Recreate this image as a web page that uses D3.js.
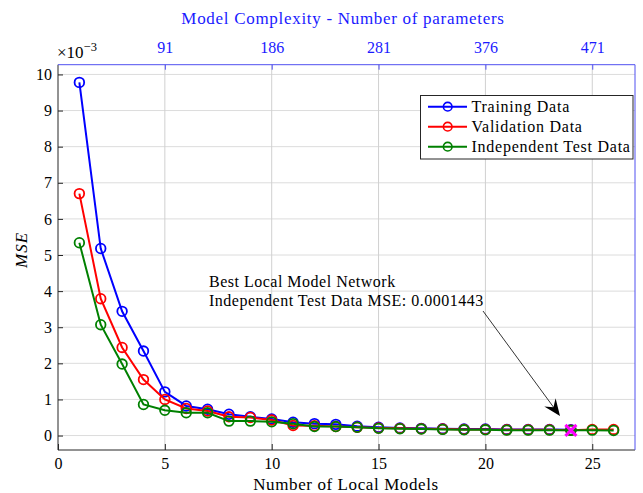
<!DOCTYPE html>
<html><head><meta charset="utf-8">
<script src="https://cdn.jsdelivr.net/npm/d3@7"></script>
<style>body{margin:0;background:#fff}svg{display:block}text{font-family:"Liberation Serif",serif}</style>
</head><body>
<script>
const models = d3.range(1, 27);
const training = [9.78,5.18,3.44,2.34,1.21,0.82,0.73,0.59,0.52,0.46,0.37,0.33,0.31,0.26,0.23,0.21,0.20,0.19,0.18,0.18,0.17,0.17,0.17,0.16];
const validation = [6.70,3.79,2.44,1.55,1.00,0.75,0.68,0.52,0.50,0.43,0.28,0.27,0.25,0.23,0.21,0.20,0.19,0.18,0.17,0.17,0.16,0.16,0.16,0.15,0.17,0.17];
const testData = [5.34,3.07,1.98,0.86,0.70,0.63,0.63,0.40,0.40,0.38,0.33,0.25,0.25,0.23,0.20,0.19,0.18,0.17,0.16,0.16,0.15,0.15,0.15,0.1443,0.15,0.14];
const seriesNames = ["Training Data","Validation Data","Independent Test Data"];
const seriesColors = ["#0000ff","#ff0000","#008000"];
const xTicks = [0,5,10,15,20,25];
const yTicks = [0,1,2,3,4,5,6,7,8,9,10];
const topTicks = [5,10,15,20,25];
const topTickLabels = ["91","186","281","376","471"];
const best = {x:24, y:0.1443};

const W=643,H=493;
const svg=d3.select("body").append("svg").attr("width",W).attr("height",H);
const L=58,R=635,T=64.7,B=450;
const x=d3.scaleLinear().domain([0,27]).range([L,R]);
const y=d3.scaleLinear().domain([-0.4,10.27]).range([B,T]);
const axisCol="#262626", blueAx="#5050f0";

// grid
const g=svg.append("g");
g.selectAll("line.gy").data(yTicks).join("line").attr("x1",L).attr("x2",R)
 .attr("y1",d=>y(d)).attr("y2",d=>y(d)).attr("stroke","#dcdcdc").attr("stroke-width",1);
g.selectAll("line.gx").data(topTicks).join("line").attr("y1",T).attr("y2",B)
 .attr("x1",d=>x(d)).attr("x2",d=>x(d)).attr("stroke","#d0d0d0").attr("stroke-width",1);

// axes
const xAxis=d3.axisBottom(x).tickValues(xTicks).tickSize(-6).tickPadding(7.5).tickFormat(d3.format("d"));
const ax=svg.append("g").attr("transform",`translate(0,${B})`).call(xAxis);
ax.select(".domain").attr("stroke",axisCol).attr("d",`M${L},0H${R}`);
ax.selectAll(".tick line").attr("stroke",axisCol);
ax.selectAll("text").attr("fill","#000").attr("font-size",16).attr("font-family","Liberation Serif");
const yAxis=d3.axisLeft(y).tickValues(yTicks).tickSize(-5).tickPadding(6);
const ay=svg.append("g").attr("transform",`translate(${L},0)`).call(yAxis);
ay.select(".domain").attr("stroke",axisCol).attr("d",`M0,${B}V${T}`);
ay.selectAll(".tick line").attr("stroke",axisCol);
ay.selectAll("text").attr("fill","#000").attr("font-size",16).attr("font-family","Liberation Serif");

const topAxis=d3.axisTop(x).tickValues(topTicks).tickSize(-5).tickPadding(12).tickFormat((d,i)=>topTickLabels[i]);
const at=svg.append("g").attr("transform",`translate(0,${T})`).call(topAxis);
at.select(".domain").attr("stroke",blueAx).attr("d",`M${L},0H${R}`);
at.selectAll(".tick line").attr("stroke",blueAx);
at.selectAll("text").attr("fill","#1a1aff").attr("font-size",16).attr("font-family","Liberation Serif");
svg.append("line").attr("x1",R).attr("x2",R).attr("y1",T).attr("y2",B).attr("stroke",blueAx);

// labels
svg.append("text").attr("x",343).attr("y",24).attr("text-anchor","middle").attr("fill","#1a1aff")
 .attr("font-size",17).attr("letter-spacing",0.7).text("Model Complexity - Number of parameters");
svg.append("text").attr("x",346).attr("y",490).attr("text-anchor","middle").attr("fill","#000")
 .attr("font-size",17).attr("letter-spacing",0.6).text("Number of Local Models");
svg.append("text").attr("transform","translate(27,250) rotate(-90)").attr("text-anchor","middle")
 .attr("font-style","italic").attr("font-size",17).attr("letter-spacing",1).text("MSE");
const ex=svg.append("text").attr("x",57).attr("y",58).attr("font-size",17).attr("fill","#000");
ex.append("tspan").text("×10");
ex.append("tspan").attr("dy",-7).attr("font-size",12.5).text("−3");

// series
const allSeries=[training,validation,testData];
const line=d3.line().x((d,i)=>x(models[i])).y(d=>y(d));
allSeries.forEach((s,k)=>{
  const sg=svg.append("g");
  sg.append("path").datum(s).attr("d",line).attr("fill","none").attr("stroke",seriesColors[k]).attr("stroke-width",2);
  sg.selectAll("circle").data(s).join("circle").attr("cx",(d,i)=>x(models[i])).attr("cy",d=>y(d))
   .attr("r",4.8).attr("fill","none").attr("stroke",seriesColors[k]).attr("stroke-width",1.8);
});

// best marker
const bx=x(best.x), by=y(best.y), s=5.5;
svg.append("path").attr("d",`M${bx-s},${by-s}L${bx+s},${by+s}M${bx-s},${by+s}L${bx+s},${by-s}`)
 .attr("stroke","#ff00ff").attr("stroke-width",3);

// annotation
const ann=svg.append("text").attr("x",209).attr("font-size",16).attr("letter-spacing",0.5).attr("fill","#000");
ann.append("tspan").attr("x",209).attr("y",287).text("Best Local Model Network");
ann.append("tspan").attr("x",209).attr("y",306).text("Independent Test Data MSE: 0.0001443");
// arrow
const ax0=483, ay0=311, ax1=560, ay1=416;
const ang=Math.atan2(ay1-ay0,ax1-ax0);
svg.append("line").attr("x1",ax0).attr("y1",ay0).attr("x2",ax1-8*Math.cos(ang)).attr("y2",ay1-8*Math.sin(ang))
 .attr("stroke","#000").attr("stroke-width",0.8);
const hl=14, hw=7;
const nx=-Math.sin(ang), ny=Math.cos(ang);
const bl=[ax1-(hl+3)*Math.cos(ang)+hw*nx, ay1-(hl+3)*Math.sin(ang)+hw*ny];
const br=[ax1-(hl+3)*Math.cos(ang)-hw*nx, ay1-(hl+3)*Math.sin(ang)-hw*ny];
const mid=[ax1-(hl-3)*Math.cos(ang), ay1-(hl-3)*Math.sin(ang)];
svg.append("path").attr("d",`M${ax1},${ay1}L${bl[0]},${bl[1]}L${mid[0]},${mid[1]}L${br[0]},${br[1]}Z`).attr("fill","#000");

// legend
const lg=svg.append("g");
lg.append("rect").attr("x",420.5).attr("y",95.5).attr("width",212.5).attr("height",63.5)
 .attr("fill","#fff").attr("stroke",axisCol).attr("stroke-width",1);
seriesNames.forEach((n,k)=>{
  const yy=106.7+k*20;
  lg.append("line").attr("x1",428).attr("x2",467).attr("y1",yy).attr("y2",yy).attr("stroke",seriesColors[k]).attr("stroke-width",2);
  lg.append("circle").attr("cx",447.7).attr("cy",yy).attr("r",4.3).attr("fill","none").attr("stroke",seriesColors[k]).attr("stroke-width",1.6);
  lg.append("text").attr("x",471.5).attr("y",yy+5).attr("font-size",16).attr("letter-spacing",0.75).attr("fill","#000").text(n);
});
</script>
</body></html>
